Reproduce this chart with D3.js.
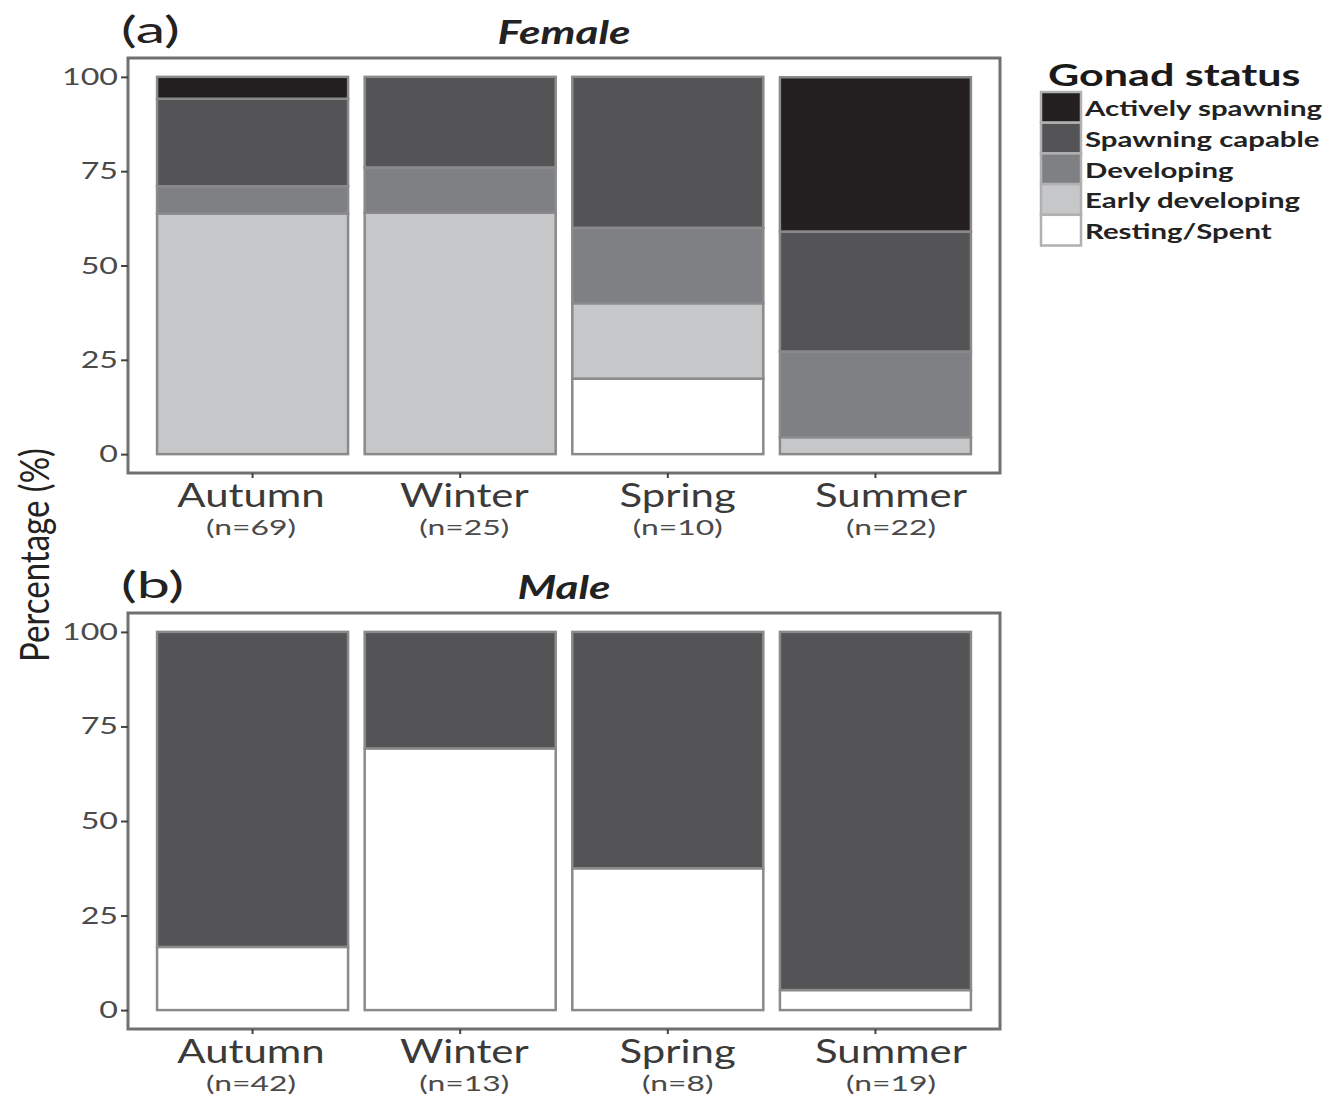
<!DOCTYPE html>
<html><head><meta charset="utf-8">
<script src="https://cdn.jsdelivr.net/npm/d3@7"></script>
<style>body{margin:0;background:#fff}svg{display:block}text{font-family:Lato,"Open Sans",sans-serif}</style>
</head><body>
<svg id="c" width="1327" height="1097"></svg>
<script>
const seasons = ["Autumn","Winter","Spring","Summer"];
const femaleN = [69,25,10,22];
const maleN = [42,13,8,19];
const statuses = ["Actively spawning","Spawning capable","Developing","Early developing","Resting/Spent"];
const statusColors = ["#231f20","#545456","#7f8084","#c6c7c9","#ffffff"];
const yTicks = [0,25,50,75,100];

const femaleActively   = [5.8, 0, 0, 40.9];
const femaleCapable    = [23.2, 24, 40, 31.8];
const femaleDeveloping = [7.2, 12, 20, 22.7];
const femaleEarly      = [63.8, 64, 20, 4.5];
const femaleResting    = [0, 0, 20, 0];

const maleActively   = [0, 0, 0, 0];
const maleCapable    = [83.3, 30.8, 62.5, 94.7];
const maleDeveloping = [0, 0, 0, 0];
const maleEarly      = [0, 0, 0, 0];
const maleResting    = [16.7, 69.2, 37.5, 5.3];

function rows(a,b,c,d,e){
  return seasons.map((s,i)=>({season:s,
    "Actively spawning":a[i],"Spawning capable":b[i],"Developing":c[i],
    "Early developing":d[i],"Resting/Spent":e[i]}));
}
const femaleRows = rows(femaleActively,femaleCapable,femaleDeveloping,femaleEarly,femaleResting);
const maleRows = rows(maleActively,maleCapable,maleDeveloping,maleEarly,maleResting);

const svg = d3.select("#c");
const SX = 1.25;
const color = d3.scaleOrdinal().domain(statuses).range(statusColors);
const stack = d3.stack().keys(statuses.slice().reverse());

function txt(g,x,y,str,opt){
  const t = g.append("text")
    .attr("transform",`translate(${x},${y}) scale(${opt.sx||SX},1)${opt.rot?" rotate("+opt.rot+")":""}`)
    .attr("text-anchor",opt.anchor||"start")
    .attr("font-size",opt.size)
    .attr("fill",opt.fill||"#1a1a1a")
    .text(str);
  if(opt.weight) t.attr("font-weight",opt.weight);
  if(opt.style) t.attr("font-style",opt.style);
  return t;
}

const left = 128, right = 1000;
// ggplot-like discrete expansion: 0.6 unit on each side, bars width 0.9
const x = d3.scalePoint().domain(seasons).range([left+0.6*(right-left)/4.2, right-0.6*(right-left)/4.2]);
const unit = (right-left)/4.2;
const cx = s => x(s);
const barW = 0.92*unit;
// tick labels in the reference sit on a slightly wider spacing than the bars
const xl = d3.scalePoint().domain(seasons).range([251, 891]);

function panel(top, bottom, data, ns, tag, title){
  const g = svg.append("g");
  const y = d3.scaleLinear().domain([-5,105]).range([bottom, top]);
  const series = stack(data);
  series.forEach(sr=>{
    g.selectAll(null).data(sr).enter().append("rect")
      .attr("x",d=>cx(d.data.season)-barW/2)
      .attr("width",barW)
      .attr("y",d=>y(d[1]))
      .attr("height",d=>Math.max(0,y(d[0])-y(d[1])))
      .attr("fill",color(sr.key))
      .attr("stroke",d=>(d[1]-d[0])>0?"#8a8a8a":"none")
      .attr("stroke-width",2.5);
  });
  g.append("rect").attr("x",left).attr("y",top).attr("width",right-left).attr("height",bottom-top)
    .attr("fill","none").attr("stroke","#707070").attr("stroke-width",3);
  const ya = g.append("g").attr("transform",`translate(${left},0)`)
    .call(d3.axisLeft(y).tickValues(yTicks).tickSize(7).tickFormat(()=>""));
  ya.select(".domain").remove();
  ya.selectAll("line").attr("stroke","#444").attr("stroke-width",2);
  yTicks.forEach(v=>txt(g,118,y(v)+8,String(v),{size:23,anchor:"end",fill:"#4a4a4a",sx:1.4}));
  seasons.forEach((s,i)=>{
    g.append("line").attr("x1",cx(s)).attr("x2",cx(s)).attr("y1",bottom).attr("y2",bottom+5)
      .attr("stroke","#444").attr("stroke-width",2);
    txt(g,xl(s),bottom+34,s,{size:33,anchor:"middle",fill:"#3a3a3a",sx:1.27});
    txt(g,xl(s),bottom+62,`(n=${ns[i]})`,{size:22,anchor:"middle",fill:"#4a4a4a",sx:1.45});
  });
  txt(g,121,top-15,tag,{size:37,fill:"#222",sx:1.6});
  txt(g,564,top-14,title,{size:32,anchor:"middle",weight:"bold",style:"italic",fill:"#222",sx:1.38});
}

panel(58, 473, femaleRows, femaleN, "(a)", "Female");
panel(613, 1029, maleRows, maleN, "(b)", "Male");

txt(svg,49,555,"Percentage (%)",{size:33,anchor:"middle",rot:-90,fill:"#222"});

const lg = svg.append("g");
txt(lg,1048,86,"Gonad status",{size:31,fill:"#1a1a1a",weight:"bold",sx:1.39});
const keyH = 30.7;
statuses.forEach((s,i)=>{
  const yy = 92 + i*keyH;
  lg.append("rect").attr("x",1041).attr("y",yy).attr("width",40).attr("height",keyH)
    .attr("fill",color(s)).attr("stroke","#b0b0b0").attr("stroke-width",2.5);
  txt(lg,1085,yy+keyH/2+9,s,{size:21,fill:"#222",weight:"bold",sx:1.4});
});
</script>
</body></html>
